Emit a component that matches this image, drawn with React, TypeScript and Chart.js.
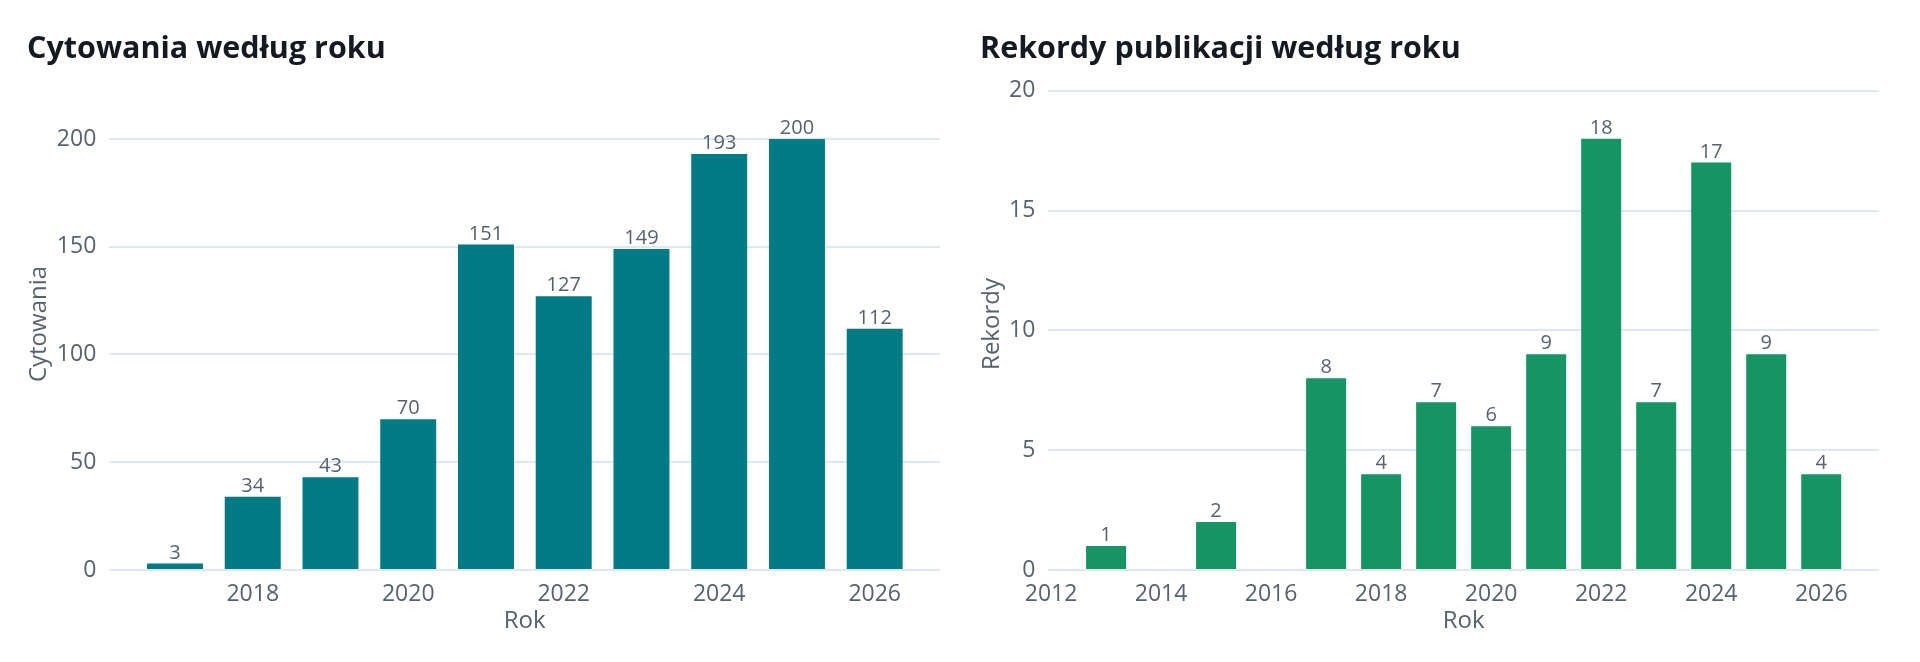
import React, { useEffect, useRef } from "react";
import { Chart, registerables } from "chart.js";

Chart.register(...registerables);

// ---- data ----
const citationYears = [2017, 2018, 2019, 2020, 2021, 2022, 2023, 2024, 2025, 2026];
const citationValues = [3, 34, 43, 70, 151, 127, 149, 193, 200, 112];
const citationXTicks = [2018, 2020, 2022, 2024, 2026];
const citationYTicks = [0, 50, 100, 150, 200];

const recordYears = [2013, 2015, 2017, 2018, 2019, 2020, 2021, 2022, 2023, 2024, 2025, 2026];
const recordValues = [1, 2, 8, 4, 7, 6, 9, 18, 7, 17, 9, 4];
const recordXTicks = [2012, 2014, 2016, 2018, 2020, 2022, 2024, 2026];
const recordYTicks = [0, 5, 10, 15, 20];

const FONT = "'Open Sans', 'Noto Sans', sans-serif";
const TICK_COLOR = "#566270";
const GRID_COLOR = "#dde9ec";

const valueLabels = {
  id: "valueLabels",
  afterDatasetsDraw(chart: any) {
    const ctx = chart.ctx;
    chart.data.datasets.forEach((ds: any, i: number) => {
      const meta = chart.getDatasetMeta(i);
      meta.data.forEach((bar: any, j: number) => {
        const v = ds.data[j].y;
        ctx.save();
        ctx.font = `20px ${FONT}`;
        ctx.fillStyle = TICK_COLOR;
        ctx.textAlign = "center";
        ctx.textBaseline = "alphabetic";
        ctx.fillText(String(v), bar.x, bar.y - 5);
        ctx.restore();
      });
    });
  },
};

type Cfg = {
  years: number[];
  values: number[];
  xTicks: number[];
  yTicks: number[];
  xMin: number;
  xMax: number;
  yMax: number;
  color: string;
  yTitle: string;
  barPct: number;
  padLeft: number;
  padRight: number;
  yWidth: number;
};

function BarChart({ cfg }: { cfg: Cfg }) {
  const ref = useRef<HTMLCanvasElement | null>(null);
  useEffect(() => {
    if (!ref.current) return;
    const chart = new Chart(ref.current, {
      type: "bar",
      data: {
        datasets: [
          {
            data: cfg.years.map((x, i) => ({ x, y: cfg.values[i] })),
            backgroundColor: cfg.color,
            borderWidth: 0,
            barPercentage: cfg.barPct,
            categoryPercentage: 1,
          },
        ],
      },
      options: {
        responsive: false,
        animation: false,
        layout: {
          padding: { left: cfg.padLeft, right: cfg.padRight, top: 78, bottom: 26 },
        },
        plugins: {
          legend: { display: false },
          tooltip: { enabled: false },
        },
        scales: {
          x: {
            type: "linear",
            offset: false,
            min: cfg.xMin,
            max: cfg.xMax,
            grid: { display: false },
            border: { display: false },
            afterBuildTicks: (axis: any) => {
              axis.ticks = cfg.xTicks.map((v) => ({ value: v }));
            },
            afterFit: (scale: any) => {
              scale.height = 66;
            },
            ticks: {
              font: { family: FONT, size: 23 },
              color: TICK_COLOR,
              padding: 3,
              maxRotation: 0,
              autoSkip: false,
              callback: (v: any) => String(v),
            },
            title: {
              display: true,
              text: "Rok",
              font: { family: FONT, size: 24 },
              color: TICK_COLOR,
              padding: 0,
            },
          },
          y: {
            type: "linear",
            min: 0,
            max: cfg.yMax,
            grid: { color: GRID_COLOR, lineWidth: 2, drawTicks: false },
            border: { display: false },
            afterBuildTicks: (axis: any) => {
              axis.ticks = cfg.yTicks.map((v) => ({ value: v }));
            },
            afterFit: (scale: any) => {
              scale.width = cfg.yWidth;
            },
            ticks: {
              font: { family: FONT, size: 23 },
              color: TICK_COLOR,
              padding: 13,
              callback: (v: any) => String(v),
            },
            title: {
              display: true,
              text: cfg.yTitle,
              font: { family: FONT, size: 24 },
              color: TICK_COLOR,
              padding: 0,
            },
          },
        },
      },
      plugins: [valueLabels],
    } as any);
    return () => chart.destroy();
  }, [cfg]);
  return <canvas ref={ref} width={960} height={662} style={{ display: "block" }} />;
}

const leftCfg: Cfg = {
  years: citationYears,
  values: citationValues,
  xTicks: citationXTicks,
  yTicks: citationYTicks,
  xMin: 2016.155,
  xMax: 2026.84,
  yMax: 228.3,
  color: "#007b85",
  yTitle: "Cytowania",
  barPct: 0.72,
  padLeft: 25,
  padRight: 20,
  yWidth: 84.3,
};

const rightCfg: Cfg = {
  years: recordYears,
  values: recordValues,
  xTicks: recordXTicks,
  yTicks: recordYTicks,
  xMin: 2011.95,
  xMax: 2027.05,
  yMax: 20.53,
  color: "#169464",
  yTitle: "Rekordy",
  barPct: 0.727,
  padLeft: 18,
  padRight: 41,
  yWidth: 70.3,
};

const titleStyle: React.CSSProperties = {
  position: "absolute",
  top: 31,
  margin: 0,
  fontFamily: FONT,
  fontWeight: 700,
  fontSize: 30.5,
  lineHeight: "30.5px",
  color: "#151a22",
  whiteSpace: "nowrap",
};

export default function App() {
  return (
    <div
      style={{
        position: "absolute",
        left: 0,
        top: 0,
        width: 1920,
        height: 662,
        overflow: "hidden",
        background: "#ffffff",
      }}
    >
      <div style={{ position: "absolute", left: 0, top: 0 }}>
        <BarChart cfg={leftCfg} />
      </div>
      <div style={{ position: "absolute", left: 960, top: 0 }}>
        <BarChart cfg={rightCfg} />
      </div>
      <div style={{ ...titleStyle, left: 27 }}>Cytowania według roku</div>
      <div style={{ ...titleStyle, left: 980 }}>Rekordy publikacji według roku</div>
    </div>
  );
}
